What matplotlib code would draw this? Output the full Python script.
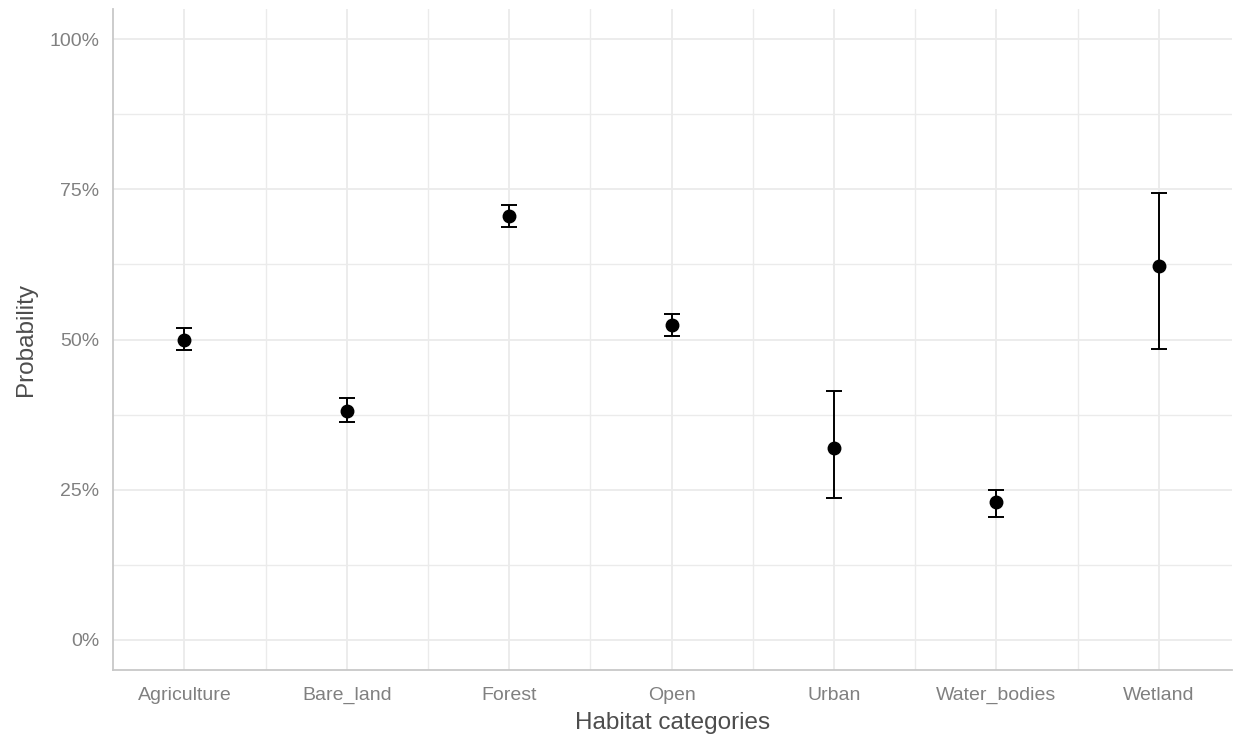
import matplotlib.pyplot as plt
from matplotlib.ticker import FuncFormatter, MultipleLocator

# Predicted probability per habitat class, with lower / upper interval bounds
habitats = ['Agriculture', 'Bare_land', 'Forest', 'Open', 'Urban',
            'Water_bodies', 'Wetland']
prob = [0.500, 0.381, 0.706, 0.524, 0.319, 0.229, 0.623]
lower = [0.482, 0.363, 0.687, 0.506, 0.236, 0.205, 0.485]
upper = [0.519, 0.402, 0.724, 0.542, 0.414, 0.250, 0.744]

plt.rcParams['font.family'] = ['Liberation Sans', 'DejaVu Sans']

fig = plt.figure(figsize=(12.35, 7.38), dpi=100)
ax = fig.add_axes([0.0915, 0.0921, 0.906, 0.8957])

x = list(range(1, len(habitats) + 1))
err = [[p - lo for p, lo in zip(prob, lower)],
       [hi - p for p, hi in zip(prob, upper)]]
ax.errorbar(x, prob, yerr=err, fmt='o', color='black', ecolor='black',
            markersize=9, elinewidth=1.4, capsize=6, capthick=1.4,
            zorder=3)

ax.set_xlim(0.56, 7.45)
ax.set_ylim(-0.05, 1.05)
ax.set_xticks(x)
ax.set_xticklabels(habitats)
ax.xaxis.set_minor_locator(MultipleLocator(1, offset=0.5))
ax.yaxis.set_major_locator(MultipleLocator(0.25))
ax.yaxis.set_minor_locator(MultipleLocator(0.125))
ax.yaxis.set_major_formatter(FuncFormatter(lambda v, _: f'{v * 100:.0f}%'))

# minimal theme: light grid, no ticks, grey left/bottom axis lines
ax.grid(which='major', color='#ebebeb', linewidth=1.3)
ax.grid(which='minor', color='#ebebeb', linewidth=1.0)
ax.set_axisbelow(True)
ax.tick_params(which='both', length=0, labelsize=14, labelcolor='#808080')
ax.tick_params(axis='x', pad=12)
ax.tick_params(axis='y', pad=10)
for side in ['top', 'right']:
    ax.spines[side].set_visible(False)
for side in ['left', 'bottom']:
    ax.spines[side].set_color('#c8c8c8')
    ax.spines[side].set_linewidth(1.3)

ax.set_xlabel('Habitat categories', fontsize=17.5, color='#4d4d4d',
              labelpad=6)
ax.set_ylabel('Probability', fontsize=17.5, color='#4d4d4d', labelpad=9)

fig.savefig('out.png', dpi=100)
